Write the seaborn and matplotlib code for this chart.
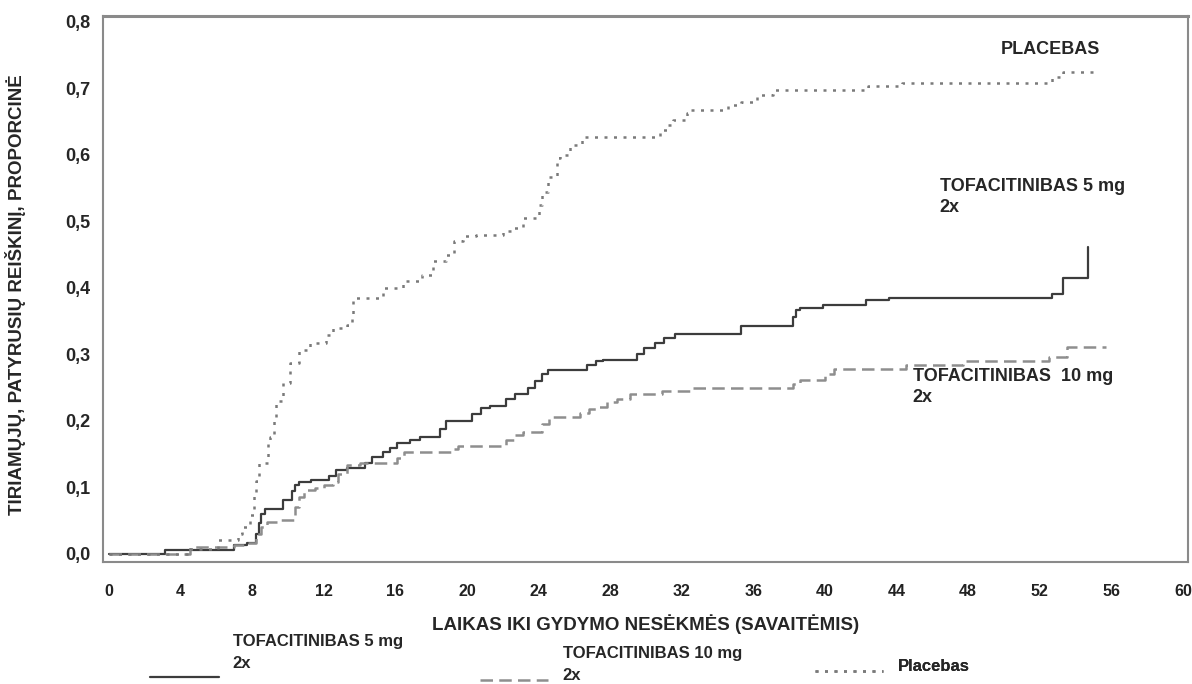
import numpy as np
import pandas as pd
import seaborn as sns
import matplotlib
matplotlib.use('Agg')
import matplotlib.pyplot as plt
from matplotlib.ticker import MultipleLocator, FuncFormatter
from matplotlib.legend_handler import HandlerLine2D

# -----------------------------
# Datos (semanas, proporción acumulada)
# -----------------------------
tof5_t = [0, 3.1, 7.0, 7.7, 8.2, 8.35, 8.5, 8.7, 9.7, 10.2, 10.4, 10.6, 11.3, 12.3,
          12.7, 13.3, 14.3, 14.7, 15.3, 15.7, 16.1, 16.8, 17.4, 18.5, 18.8, 20.3,
          20.8, 21.3, 22.2, 22.7, 23.4, 23.8, 24.2, 24.5, 26.7, 27.2, 27.6, 29.5,
          29.9, 30.5, 31.0, 31.6, 35.3, 38.2, 38.4, 38.6, 39.9, 42.3, 43.6, 52.7,
          53.3, 54.7]
tof5_y = [0.0, 0.006, 0.013, 0.017, 0.03, 0.046, 0.06, 0.068, 0.081, 0.095, 0.104,
          0.108, 0.111, 0.118, 0.126, 0.129, 0.137, 0.146, 0.153, 0.16, 0.167,
          0.171, 0.176, 0.188, 0.2, 0.21, 0.22, 0.222, 0.233, 0.24, 0.25, 0.26,
          0.27, 0.277, 0.284, 0.29, 0.292, 0.30, 0.31, 0.317, 0.325, 0.331, 0.343,
          0.356, 0.367, 0.37, 0.374, 0.382, 0.385, 0.391, 0.415, 0.462]

tof10_t = [0, 4.5, 7.0, 7.7, 8.2, 8.5, 8.8, 9.6, 10.4, 10.6, 10.9, 11.5, 12.0, 12.5,
           12.8, 13.3, 14.0, 16.1, 16.5, 19.2, 19.5, 22.2, 22.6, 23.1, 24.2, 24.6,
           26.3, 26.8, 27.3, 27.8, 28.4, 29.1, 30.9, 32.5, 38.2, 38.6, 40.0, 40.5,
           44.5, 47.7, 52.5, 53.5, 55.7]
tof10_y = [0.0, 0.01, 0.013, 0.017, 0.03, 0.04, 0.048, 0.051, 0.07, 0.085, 0.096,
           0.099, 0.104, 0.108, 0.12, 0.134, 0.137, 0.145, 0.153, 0.158, 0.163,
           0.172, 0.179, 0.183, 0.195, 0.206, 0.212, 0.218, 0.221, 0.228, 0.233,
           0.24, 0.245, 0.25, 0.256, 0.262, 0.27, 0.278, 0.284, 0.29, 0.296, 0.311,
           0.311]

plac_t = [0, 4.5, 6.1, 7.2, 7.4, 7.9, 8.1, 8.2, 8.4, 8.9, 9.0, 9.2, 9.3, 9.7, 10.1,
          10.6, 11.2, 12.1, 12.5, 13.3, 13.6, 13.65, 15.3, 16.4, 17.5, 18.1, 18.8,
          19.3, 19.8, 20.5, 22.0, 22.6, 23.1, 24.0, 24.2, 24.5, 25.0, 25.2, 25.75,
          26.4, 30.8, 31.2, 31.5, 32.3, 32.5, 34.6, 35.3, 36.2, 37.1, 42.4, 44.3,
          52.7, 53.3, 55.0]
plac_y = [0.0, 0.008, 0.021, 0.03, 0.04, 0.058, 0.09, 0.11, 0.137, 0.165, 0.176,
          0.2, 0.23, 0.257, 0.287, 0.307, 0.317, 0.33, 0.34, 0.345, 0.36, 0.385,
          0.40, 0.41, 0.42, 0.44, 0.45, 0.47, 0.478, 0.48, 0.485, 0.49, 0.505,
          0.525, 0.545, 0.567, 0.595, 0.60, 0.615, 0.627, 0.637, 0.645, 0.653,
          0.663, 0.668, 0.675, 0.68, 0.69, 0.698, 0.704, 0.708, 0.718, 0.725, 0.725]

x_ticks = list(range(0, 61, 4))
y_ticks = [0.0, 0.1, 0.2, 0.3, 0.4, 0.5, 0.6, 0.7, 0.8]


# manija de leyenda desplazada hacia abajo (la línea va al nivel de "2x")
class LowLine(HandlerLine2D):
    def __init__(self, dy, **kw):
        super().__init__(**kw)
        self.dy = dy

    def create_artists(self, legend, orig_handle, xdescent, ydescent, width,
                       height, fontsize, trans):
        arts = super().create_artists(legend, orig_handle, xdescent, ydescent,
                                      width, height, fontsize, trans)
        for a in arts:
            a.set_ydata(np.asarray(a.get_ydata()) + self.dy)
        return arts


# -----------------------------
# Estilo
# -----------------------------
sns.set_style('white')
plt.rcParams['font.family'] = ['Liberation Sans', 'DejaVu Sans']
plt.rcParams['font.weight'] = 'bold'

fig = plt.figure(figsize=(11.92, 6.84), dpi=100)
ax = fig.add_axes([0.0864, 0.1784, 0.9102, 0.7982])

sns.lineplot(x=tof5_t, y=tof5_y, drawstyle='steps-post', estimator=None,
             color='#3c3c3c', linewidth=1.6, ax=ax,
             label='TOFACITINIBAS 5 mg\n2x')
sns.lineplot(x=tof10_t, y=tof10_y, drawstyle='steps-post', estimator=None,
             color='#8e8e8e', linewidth=1.8, linestyle=(0, (5, 2.5)), ax=ax,
             label='TOFACITINIBAS 10 mg\n2x')
sns.lineplot(x=plac_t, y=plac_y, drawstyle='steps-post', estimator=None,
             color='#7a7a7a', linewidth=1.8, linestyle=(0, (1.2, 2.6)), ax=ax,
             label='Placebas')

ax.set_xlim(-0.34, 60.28)
ax.set_ylim(-0.012, 0.809)
ax.set_xticks(x_ticks)
ax.set_yticks(y_ticks)
ax.xaxis.set_minor_locator(MultipleLocator(1))
ax.yaxis.set_minor_locator(MultipleLocator(0.02))
ax.yaxis.set_major_formatter(FuncFormatter(lambda v, _: f'{v:.1f}'.replace('.', ',')))

for s in ax.spines.values():
    s.set_color('#8a8a8a')
    s.set_linewidth(1.5)
ax.spines['top'].set_linewidth(2.2)

ax.tick_params(axis='both', which='both', direction='out', color='#8a8a8a', width=1.2)
ax.tick_params(axis='y', which='major', length=6, pad=3, labelsize=13)
ax.tick_params(axis='y', which='minor', length=3)
ax.tick_params(axis='x', which='major', length=7, pad=9, labelsize=11.5, labelcolor='#222222')
ax.tick_params(axis='x', which='minor', length=4)
for lbl in ax.get_xticklabels() + ax.get_yticklabels():
    lbl.set_fontweight('bold')

ax.set_xlabel('LAIKAS IKI GYDYMO NESĖKMĖS (SAVAITĖMIS)', fontsize=13.5, fontweight='bold', labelpad=11)
ax.set_ylabel('TIRIAMŲJŲ, PATYRUSIŲ REIŠKINĮ, PROPORCINĖ', fontsize=13.5, fontweight='bold')
ax.yaxis.set_label_coords(-0.071, 0.49)

# Etiquetas dentro del gráfico
ax.text(49.8, 0.758, 'PLACEBAS', fontsize=13, fontweight='bold', va='center')
ax.text(46.4, 0.565, 'TOFACITINIBAS 5 mg\n2x', fontsize=13, fontweight='bold', va='top',
        linespacing=1.3)
ax.text(44.9, 0.28, 'TOFACITINIBAS  10 mg\n2x', fontsize=13, fontweight='bold', va='top',
        linespacing=1.3)

# Leyenda: tres entradas escalonadas como en el original
handles, labels = ax.get_legend_handles_labels()
ax.get_legend().remove()
leg_pos = [(0.126, 0.0731, -18), (0.4027, 0.0556, -11), (0.6837, 0.0365, -4)]
for h, l, (lx, ly, dy) in zip(handles, labels, leg_pos):
    leg = ax.legend([h], [l], loc='upper left', bbox_to_anchor=(lx, ly),
                    bbox_transform=fig.transFigure, frameon=False, fontsize=12,
                    handlelength=4.1, handletextpad=0.85, borderpad=0,
                    borderaxespad=0, handler_map={h: LowLine(dy)})
    for t in leg.get_texts():
        t.set_linespacing(1.55)
    ax.add_artist(leg)

fig.savefig('out.png', dpi=100)
